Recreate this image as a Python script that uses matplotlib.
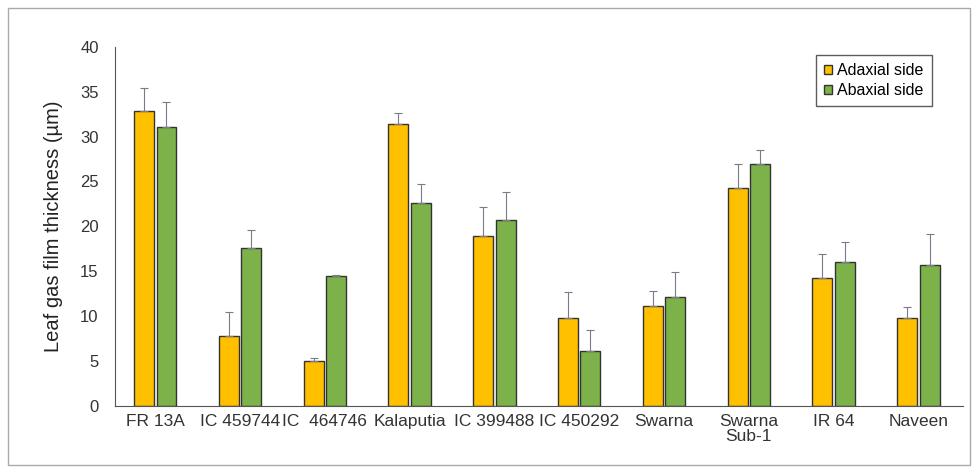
import matplotlib.pyplot as plt
import numpy as np
from matplotlib.patches import Rectangle

plt.rcParams['font.family'] = ['Liberation Sans', 'DejaVu Sans']

genotypes = ["FR 13A", "IC 459744", "IC  464746", "Kalaputia", "IC 399488", "IC 450292",
             "Swarna", "Swarna\nSub-1", "IR 64", "Naveen"]
adaxial = [32.8, 7.8, 5.0, 31.4, 18.9, 9.8, 11.1, 24.3, 14.2, 9.8]
adaxial_err = [2.6, 2.7, 0.3, 1.2, 3.2, 2.9, 1.7, 2.7, 2.7, 1.2]
abaxial = [31.1, 17.6, 14.5, 22.6, 20.7, 6.1, 12.1, 26.9, 16.0, 15.7]
abaxial_err = [2.7, 2.0, 0.1, 2.1, 3.1, 2.4, 2.8, 1.6, 2.3, 3.4]

fig = plt.figure(figsize=(9.78, 4.73), dpi=100)
ax = fig.add_axes([0.118, 0.142, 0.867, 0.759])

x = np.arange(len(genotypes))
w = 0.235
ax.bar(x - w/2 - 0.015, adaxial, w, color='#FFC000', edgecolor='#333333', linewidth=1.0,
       yerr=[np.zeros(len(x)), adaxial_err], error_kw=dict(ecolor='#7a7a8a', elinewidth=0.8, capsize=3, capthick=0.8),
       label='Adaxial side')
ax.bar(x + w/2 + 0.015, abaxial, w, color='#7DB24A', edgecolor='#333333', linewidth=1.0,
       yerr=[np.zeros(len(x)), abaxial_err], error_kw=dict(ecolor='#7a7a8a', elinewidth=0.8, capsize=3, capthick=0.8),
       label='Abaxial side')

ax.set_ylim(0, 40)
ax.set_yticks(range(0, 41, 5))
ax.set_xlim(-0.47, len(genotypes) - 0.47)
ax.set_xticks(x)
ax.set_xticklabels(genotypes, fontsize=12.5, color='#333333', linespacing=1.0)
ax.tick_params(axis='y', length=0, labelsize=12, labelcolor='#333333', pad=12)
ax.tick_params(axis='x', length=0, pad=6)
ax.set_ylabel('Leaf gas film thickness (µm)', fontsize=14.5, color='#222222', labelpad=12)

for s in ['top', 'right']:
    ax.spines[s].set_visible(False)
ax.spines['left'].set_color('#555555')
ax.spines['bottom'].set_color('#555555')

leg = ax.legend(loc='upper right', bbox_to_anchor=(0.972, 1.0), fontsize=11.5, frameon=True,
                fancybox=False, edgecolor='#333333', handlelength=0.5, handleheight=0.5,
                handletextpad=0.3, borderpad=0.5, labelspacing=0.35)
leg.get_frame().set_linewidth(1.0)

fig.patches.append(Rectangle((0.008, 0.017), 0.984, 0.966, transform=fig.transFigure,
                             fill=False, edgecolor='#aaaaaa', linewidth=1.0))

fig.savefig('out.png', dpi=100)
